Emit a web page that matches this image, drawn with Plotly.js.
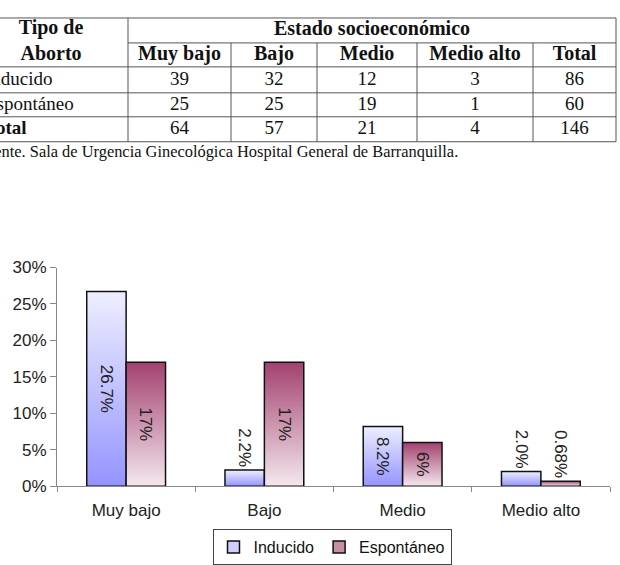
<!DOCTYPE html>
<html>
<head>
<meta charset="utf-8">
<script src="https://cdn.plot.ly/plotly-3.0.1.min.js"></script>
<style>
  body { margin: 0; background: #fff; }
  #chart { width: 620px; height: 565px; }
</style>
</head>
<body>
<div id="chart"></div>
<script>
// tabla: tipo de aborto x estado socioeconomico
var tableCols = ['Muy bajo', 'Bajo', 'Medio', 'Medio alto', 'Total'];
var rowNames = ['Inducido', 'Espontáneo', 'Total'];
var inducidoN = [39, 32, 12, 3, 86];
var espontaneoN = [25, 25, 19, 1, 60];
var totalN = [64, 57, 21, 4, 146];
var source = 'Fuente. Sala de Urgencia Ginecológica Hospital General de Barranquilla.';

// grafico de barras
var categories = ['Muy bajo', 'Bajo', 'Medio', 'Medio alto'];
var inducidoPct = [26.7, 2.2, 8.2, 2.0];
var espontaneoPct = [17, 17, 6, 0.68];
var inducidoLbl = ['26.7%', '2.2%', '8.2%', '2.0%'];
var espontaneoLbl = ['17%', '17%', '6%', '0.68%'];

// table grid in page pixels (x2 / y2 axes are 1:1 with the page)
var colEdges = [-28, 128, 231, 317, 417, 533, 616];
var rowEdges = [18, 43, 67, 93, 117, 142];
var serif = 'Liberation Serif, Times New Roman, serif';
var sans = 'Arial, Liberation Sans, sans-serif';

function mid(a, i) { return (a[i] + a[i + 1]) / 2; }

var lines = [];
function seg(x0, y0, x1, y1) {
    lines.push({type: 'line', xref: 'x2', yref: 'y2', x0: x0, y0: y0, x1: x1, y1: y1,
        line: {color: '#555', width: 1}});
}
seg(0, rowEdges[0], colEdges[6], rowEdges[0]);
seg(colEdges[1], rowEdges[1], colEdges[6], rowEdges[1]);
for (var r = 2; r < rowEdges.length; r++) seg(0, rowEdges[r], colEdges[6], rowEdges[r]);
seg(colEdges[1], rowEdges[0], colEdges[1], rowEdges[5]);
for (var c = 2; c < 6; c++) seg(colEdges[c], rowEdges[1], colEdges[c], rowEdges[5]);
seg(colEdges[6], rowEdges[0], colEdges[6], rowEdges[5]);

// header cells
var hx = [51, (colEdges[1] + colEdges[6]) / 2], hy = [mid(rowEdges, 0) + 12, mid(rowEdges, 0)];
var ht = ['Tipo de<br>Aborto', 'Estado socioeconómico'];
tableCols.forEach(function (name, i) {
    hx.push(mid(colEdges, i + 1)); hy.push(mid(rowEdges, 1)); ht.push(name);
});
var header = {
    type: 'scatter', mode: 'text', xaxis: 'x2', yaxis: 'y2',
    x: hx, y: hy, text: ht, textposition: 'middle center',
    textfont: {family: serif, size: 20, color: '#111', weight: 'bold'},
    showlegend: false, hoverinfo: 'skip'
};

// body cells
var bx = [], by = [], bt = [];
[inducidoN, espontaneoN, totalN].forEach(function (row, r) {
    row.forEach(function (v, i) {
        bx.push(mid(colEdges, i + 1)); by.push(mid(rowEdges, r + 2)); bt.push(String(v));
    });
});
var body = {
    type: 'scatter', mode: 'text', xaxis: 'x2', yaxis: 'y2',
    x: bx, y: by, text: bt, textposition: 'middle center',
    textfont: {family: serif, size: 19, color: '#111'},
    showlegend: false, hoverinfo: 'skip'
};

var rowLabels = {
    type: 'scatter', mode: 'text', xaxis: 'x2', yaxis: 'y2',
    x: rowNames.map(function () { return -15; }),
    y: rowNames.map(function (n, r) { return mid(rowEdges, r + 2); }),
    text: rowNames.map(function (n, r) { return r === 2 ? '<b>' + n + '</b>' : n; }),
    textposition: 'middle right',
    textfont: {family: serif, size: 19, color: '#111'},
    showlegend: false, hoverinfo: 'skip'
};

var note = {
    type: 'scatter', mode: 'text', xaxis: 'x2', yaxis: 'y2',
    x: [-23], y: [153], text: [source], textposition: 'middle right',
    textfont: {family: serif, size: 16.4, color: '#111'},
    showlegend: false, hoverinfo: 'skip'
};

function labelPos(v) { return v < 3 ? 'outside' : 'inside'; }

var barText = {family: sans, size: 17, color: '#222'};
var trInd = {
    type: 'bar', name: 'Inducido', x: categories, y: inducidoPct,
    text: inducidoLbl, textposition: inducidoPct.map(labelPos), textangle: 90,
    insidetextanchor: 'middle', constraintext: 'none',
    textfont: barText, insidetextfont: barText, outsidetextfont: barText,
    marker: {color: '#cfcfff', line: {color: '#111', width: 1.5}},
    cliponaxis: false, hoverinfo: 'none'
};
var trEsp = {
    type: 'bar', name: 'Espontáneo', x: categories, y: espontaneoPct,
    text: espontaneoLbl, textposition: espontaneoPct.map(labelPos), textangle: 90,
    insidetextanchor: 'middle', constraintext: 'none',
    textfont: barText, insidetextfont: barText, outsidetextfont: barText,
    marker: {color: '#c78ea4', line: {color: '#111', width: 1.5}},
    cliponaxis: false, hoverinfo: 'none'
};

var layout = {
    width: 620, height: 565,
    margin: {l: 0, r: 0, t: 0, b: 0},
    paper_bgcolor: '#fff', plot_bgcolor: '#fff',
    font: {family: sans, size: 17, color: '#222'},
    barmode: 'group', bargap: 0.43, bargroupgap: 0,
    hovermode: false,
    legend: {
        orientation: 'h', x: 332 / 620, xanchor: 'center', y: 1 - 548 / 565, yanchor: 'middle',
        bordercolor: '#444', borderwidth: 1, bgcolor: '#fff', font: {family: sans, size: 16, color: '#111'}
    },
    xaxis: {
        domain: [57 / 620, 610 / 620], anchor: 'y',
        showline: true, linecolor: '#888', ticks: 'outside', tickson: 'boundaries',
        ticklen: 5, tickcolor: '#888', ticklabelstandoff: 8,
        showgrid: false, zeroline: false
    },
    yaxis: {
        domain: [1 - 487 / 565, 1 - 268 / 565], anchor: 'x',
        range: [0, 30], dtick: 5, ticksuffix: '%',
        showline: true, linecolor: '#888', ticks: 'outside', ticklen: 6, tickcolor: '#888',
        showgrid: false, zeroline: false
    },
    xaxis2: {domain: [0, 1], anchor: 'y2', range: [0, 620], visible: false},
    yaxis2: {domain: [1 - 170 / 565, 1], anchor: 'x2', range: [170, 0], visible: false},
    shapes: lines
};

function addGradient(defs, id, top, bottom) {
    var ns = 'http://www.w3.org/2000/svg';
    var g = document.createElementNS(ns, 'linearGradient');
    g.setAttribute('id', id);
    g.setAttribute('x1', '0'); g.setAttribute('y1', '0');
    g.setAttribute('x2', '0'); g.setAttribute('y2', '1');
    [[0, top], [1, bottom]].forEach(function (s) {
        var stop = document.createElementNS(ns, 'stop');
        stop.setAttribute('offset', s[0]);
        stop.setAttribute('stop-color', s[1]);
        g.appendChild(stop);
    });
    defs.appendChild(g);
}

Plotly.newPlot('chart', [header, body, rowLabels, note, trInd, trEsp], layout, {displayModeBar: false, staticPlot: true})
.then(function (gd) {
    // excel-like vertical gradient on the bars
    var defs = gd.querySelector('.main-svg defs');
    addGradient(defs, 'gradInd', '#eeeeff', '#9494ff');
    addGradient(defs, 'gradEsp', '#a3416f', '#f4e8ee');
    var traces = gd.querySelectorAll('.barlayer .trace');
    var ids = ['gradInd', 'gradEsp'];
    traces.forEach(function (t, i) {
        t.querySelectorAll('.point path').forEach(function (p) {
            p.style.fill = 'url(#' + ids[i] + ')';
        });
    });
});
</script>
</body>
</html>
